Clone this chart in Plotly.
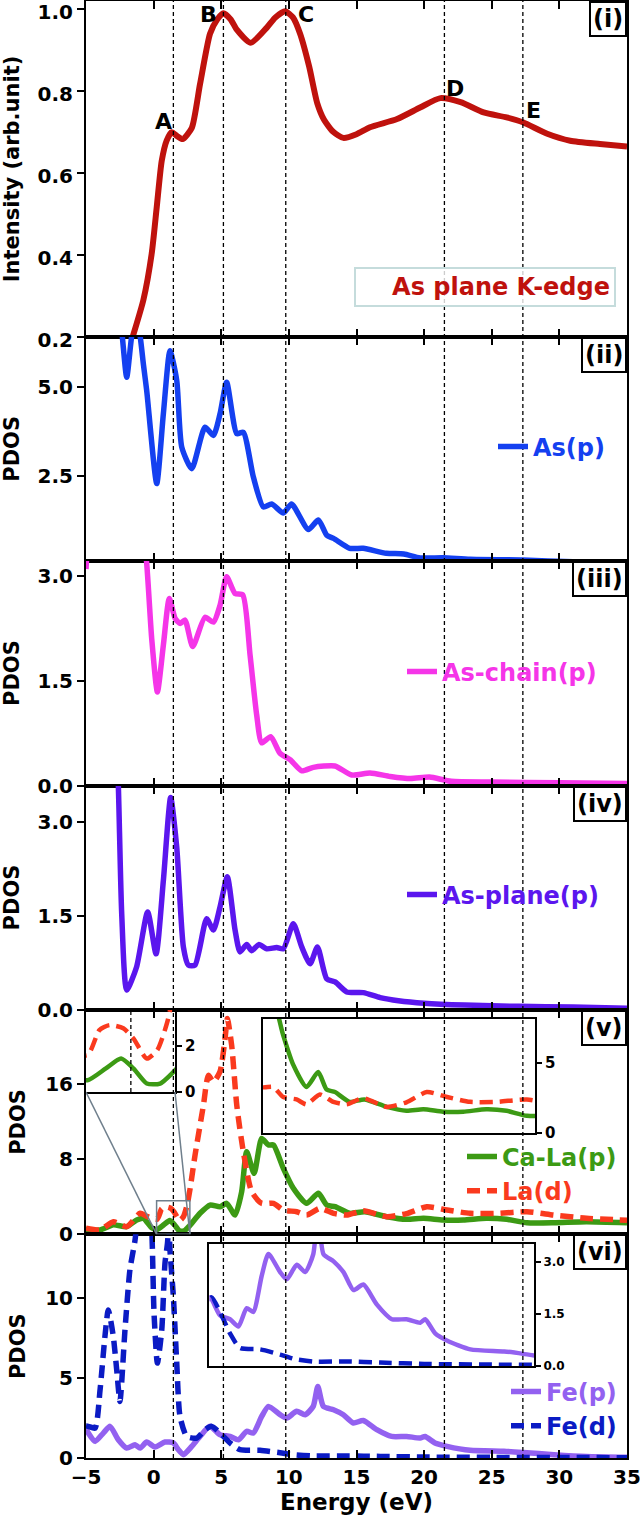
import plotly.graph_objects as go

# ---------------- data ----------------
xanes_e = [-5, -3, -2, -1.55, -0.76, -0.14, 0.23, 0.6, 0.97, 1.34, 1.75, 2.15, 2.82, 3.43, 4.17, 4.7,
           5.16, 5.7, 6.15, 7.18, 8.37, 9.0, 9.72, 10.3, 10.83, 11.5, 12.1, 12.6, 13.3, 14.03, 15.0,
           16.0, 18.0, 19.7, 21.2, 22.7, 24.4, 26.1, 27.3, 29.1, 30.8, 33.0, 35.0]
xanes_i = [0.02, 0.09, 0.15, 0.2, 0.29, 0.404, 0.517, 0.63, 0.68, 0.70, 0.69, 0.683, 0.71, 0.817, 0.94, 0.975,
           0.99, 0.975, 0.95, 0.918, 0.955, 0.98, 0.995, 0.98, 0.94, 0.86, 0.77, 0.73, 0.70, 0.686, 0.695,
           0.712, 0.732, 0.76, 0.783, 0.773, 0.748, 0.736, 0.724, 0.696, 0.679, 0.671, 0.665]

asp_e = [-5, -4, -3, -2.36, -1.99, -1.62, -1.3, -1.0, -0.76, -0.51, 0.23, 0.72, 1.21, 1.71, 2.08, 2.82,
         3.8, 4.42, 4.91, 5.4, 6.15, 6.63, 7.37, 8.11, 8.73, 9.59, 10.2, 11.44, 12.18, 12.8, 13.3, 14.5,
         15.5, 17.2, 18.5, 19.7, 21.4, 23.4, 27.3, 31, 35]
asp_d = [9, 9, 8.5, 6.6, 5.28, 6.45, 7.0, 6.45, 5.66, 4.9, 2.28, 4.25, 6.03, 5.19, 3.31, 2.70,
         3.87, 3.64, 4.25, 5.14, 3.69, 3.73, 2.47, 1.62, 1.70, 1.45, 1.70, 0.98, 1.25, 0.82, 0.73, 0.45,
         0.45, 0.31, 0.29, 0.18, 0.18, 0.14, 0.12, 0.07, 0.05]

asc_e = [-5, -4.5, -3, -1.5, -0.52, -0.14, 0.28, 0.72, 1.16, 1.6, 1.97, 2.32, 2.89, 3.8, 4.42, 4.91,
         5.4, 6.02, 6.59, 7.13, 7.62, 7.99, 8.66, 9.35, 10.09, 10.95, 11.81, 13.4, 14.65, 16.0, 17.5,
         19, 20.4, 22, 25, 30, 35]
asc_d = [3.1, 4.5, 6, 5, 3.2, 2.1, 1.34, 2.01, 2.68, 2.39, 2.32, 2.37, 1.99, 2.41, 2.34, 2.58,
         2.99, 2.75, 2.73, 1.87, 1.01, 0.61, 0.70, 0.46, 0.37, 0.21, 0.26, 0.28, 0.15, 0.18, 0.13,
         0.1, 0.12, 0.06, 0.05, 0.04, 0.03]

asl_e = [-5, -4, -3, -2.61, -2.36, -1.99, -1.26, -0.44, 0.18, 0.72, 1.26, 1.71, 2.2, 2.57, 3.06, 3.92,
         4.42, 4.91, 5.45, 6.02, 6.39, 6.88, 7.25, 7.79, 8.36, 9.1, 9.59, 10.33, 10.95, 11.57, 12.11,
         12.8, 13.42, 14.28, 15.51, 16.75, 18.1, 20, 23, 27, 31, 35]
asl_d = [8, 8, 6, 3.6, 1.53, 0.31, 0.68, 1.56, 0.89, 2.06, 3.39, 2.59, 1.0, 0.71, 0.71, 1.45,
         1.27, 1.64, 2.12, 1.27, 0.92, 1.04, 0.94, 1.04, 0.97, 0.99, 0.97, 1.37, 1.0, 0.73, 1.0,
         0.49, 0.44, 0.28, 0.27, 0.19, 0.14, 0.1, 0.07, 0.05, 0.04, 0.02]

cal_e = [-5, -3.96, -2.98, -1.99, -1.25, -0.76, -0.14, 0.26, 0.77, 1.19, 1.53, 1.9, 2.27, 2.64, 3.43,
         4.17, 4.91, 5.4, 6.02, 6.51, 6.88, 7.43, 7.99, 8.49, 8.86, 9.59, 10.33, 11.31, 12.18, 12.8,
         13.42, 14.5, 15.6, 17.24, 18.7, 19.95, 21.4, 22.9, 24.6, 26.1, 27.6, 29.6, 32, 35]
cal_d = [0.5, 0.46, 1.0, 0.81, 1.52, 1.7, 0.7, 0.51, 1.03, 1.46, 1.03, 0.37, 0.37, 0.88, 2.23,
         3.11, 2.93, 3.29, 2.05, 4.53, 8.78, 6.48, 10.2, 9.49, 9.49, 7.01, 4.89, 3.29, 4.36, 3.11,
         2.93, 2.23, 2.4, 1.87, 1.59, 1.7, 1.52, 1.52, 1.7, 1.59, 1.23, 1.23, 1.34, 1.23]

lad_e = [-5, -3.96, -2.98, -1.99, -1.0, -0.5, 0.26, 0.59, 0.87, 1.25, 1.53, 1.9, 2.19, 2.47, 2.69,
         3.06, 3.68, 4.05, 4.42, 4.91, 5.28, 5.45, 5.77, 6.15, 6.63, 7.25, 7.99, 8.86, 9.59, 10.58,
         11.31, 12.3, 13.3, 14.28, 15.5, 17.24, 18.7, 20.2, 21.7, 23.4, 25.4, 27.6, 29.6, 32, 35]
lad_d = [0.64, 0.46, 1.34, 0.81, 2.23, 1.9, 1.61, 2.7, 2.92, 2.78, 2.34, 1.46, 1.83, 3.07, 4.8,
         8.4, 13.7, 16.9, 16.2, 17.3, 20.8, 22.95, 20.1, 13.7, 8.78, 4.53, 3.29, 3.29, 2.58, 2.4,
         2.05, 2.76, 2.23, 2.05, 2.5, 1.87, 2.2, 2.93, 2.58, 2.23, 2.23, 2.4, 2.05, 1.7, 1.5]

fed_e = [-5, -4.83, -4.33, -3.96, -3.6, -3.35, -2.98, -2.73, -2.49, -2.12, -1.75, -1.38, -1.0, -0.5,
         -0.14, 0.03, 0.28, 0.6, 0.84, 1.02, 1.12, 1.21, 1.46, 1.71, 1.95, 2.45, 3.19, 3.8, 4.3, 4.91,
         5.65, 6.39, 7.87, 9.35, 10.33, 11.8, 14.3, 16.75, 20, 25, 30, 35]
fed_d = [2.0, 1.98, 1.87, 4.27, 7.6, 9.27, 7.6, 5.52, 3.54, 8.0, 11.8, 13.6, 16.5, 18,
         14.3, 9.06, 5.94, 8.0, 12.2, 13.4, 14.5, 13.0, 10.1, 5.94, 2.6, 1.35, 1.25, 1.77, 1.98, 1.56,
         0.94, 0.52, 0.48, 0.33, 0.21, 0.13, 0.13, 0.1, 0.06, 0.04, 0.03, 0.02]

fep_e = [-5, -4.33, -3.72, -3.22, -2.61, -1.99, -1.38, -1.0, -0.51, 0.1, 0.84, 1.46, 1.83, 2.2, 2.82,
         3.43, 4.17, 4.91, 5.65, 6.27, 6.88, 7.37, 7.99, 8.49, 9.35, 9.84, 10.58, 11.2, 11.8, 12.14,
         12.55, 13.3, 14.03, 14.77, 15.5, 16.5, 17.6, 18.7, 19.7, 20.07, 20.8, 21.7, 23.4, 25.9, 27.3,
         29.6, 32, 35]
fep_d = [1.8, 1.04, 1.56, 1.98, 1.14, 0.62, 0.83, 0.62, 1.0, 0.69, 1.0, 0.94, 0.52, 0.21, 0.73,
         1.35, 1.98, 1.46, 1.35, 1.14, 1.67, 1.56, 2.6, 3.23, 2.71, 2.5, 2.92, 2.71, 3.23, 4.48,
         3.23, 3.02, 2.71, 2.19, 2.35, 1.77, 1.35, 1.35, 1.25, 1.35, 0.94, 0.73, 0.48, 0.42, 0.35,
         0.21, 0.1, 0.05]

feature_e = [1.46, 5.16, 9.77, 21.5, 27.3]
feature_labels = ["A", "B", "C", "D", "E"]
label_e = [0.72, 4.05, 11.27, 22.3, 28.1]
label_i = [0.726, 0.988, 0.988, 0.807, 0.752]
panel_tags = ["(i)", "(ii)", "(iii)", "(iv)", "(v)", "(vi)"]
x_ticks = [-5, 0, 5, 10, 15, 20, 25, 30, 35]

# ---------------- styling ----------------
FONT = "DejaVu Sans"
C_XANES = "#bf120d"
C_ASP = "#1440f0"
C_ASC = "#f535e8"
C_ASL = "#5b16ee"
C_CAL = "#3c9a14"
C_LAD = "#fa3a1e"
C_FEP = "#9361f0"
C_FED = "#0b1bc4"

W, H = 640, 1524
ML, MR, MT, MB = 86, 13, 1, 66
PW = W - ML - MR
PH = H - MT - MB


def py2p(py):
    return (H - MB - py) / PH


def px2p(px):
    return (px - ML) / PW


panel_px = [(1, 337), (337, 560.7), (560.7, 785.5), (785.5, 1009.5), (1009.5, 1234.3), (1234.3, 1458)]
yranges = [[0.2, 1.02], [0.1, 6.42], [0, 3.22], [0, 3.58], [0, 23.9], [0, 14.0]]
yticks = [[0.2, 0.4, 0.6, 0.8, 1.0], [2.5, 5.0], [0, 1.5, 3.0], [0, 1.5, 3.0], [0, 8, 16], [0, 5, 10]]
yfmts = [".1f", ".1f", ".1f", ".1f", "d", "d"]
ytitles = ["Intensity (arb.unit)", "PDOS", "PDOS", "PDOS", "PDOS", "PDOS"]

fig = go.Figure()


def add(x, y, color, n, dash=None, width=5.5, name=None, legend=None):
    fig.add_trace(go.Scatter(
        x=x, y=y, mode="lines",
        line=dict(color=color, width=width, dash=dash, shape="spline", smoothing=0.6),
        xaxis="x" if n == 1 else f"x{n}", yaxis="y" if n == 1 else f"y{n}",
        name=name, legend=legend, showlegend=name is not None, hoverinfo="skip"))


DASH = "13px,7px"
add(xanes_e, xanes_i, C_XANES, 1, width=6)
add(asp_e, asp_d, C_ASP, 2, name="As(p)", legend="legend")
add(asc_e, asc_d, C_ASC, 3, name="As-chain(p)", legend="legend2")
add(asl_e, asl_d, C_ASL, 4, name="As-plane(p)", legend="legend3")
add(cal_e, cal_d, C_CAL, 5, name=f'<span style="color:{C_CAL}">Ca-La(p)</span>', legend="legend4")
add(lad_e, lad_d, C_LAD, 5, dash=DASH, name=f'<span style="color:{C_LAD}">La(d)</span>', legend="legend4")
add(fep_e, fep_d, C_FEP, 6, name=f'<span style="color:{C_FEP}">Fe(p)</span>', legend="legend5")
add(fed_e, fed_d, C_FED, 6, dash=DASH, name=f'<span style="color:{C_FED}">Fe(d)</span>', legend="legend5")
# insets
add(cal_e, cal_d, C_CAL, 7, width=4.5)
add(lad_e, lad_d, C_LAD, 7, dash=DASH, width=4.5)
add(cal_e, cal_d, C_CAL, 8, width=4.5)
add(lad_e, lad_d, C_LAD, 8, dash=DASH, width=4.5)
add(fep_e, fep_d, C_FEP, 9, width=4.5)
add(fed_e, fed_d, C_FED, 9, dash=DASH, width=4.5)

layout = dict(
    template="none",
    width=W, height=H, margin=dict(l=ML, r=MR, t=MT, b=MB, autoexpand=False),
    paper_bgcolor="white", plot_bgcolor="rgba(0,0,0,0)",
    font=dict(family=FONT, color="black"),
)

for i in range(6):
    n = i + 1
    xk = "xaxis" if n == 1 else f"xaxis{n}"
    yk = "yaxis" if n == 1 else f"yaxis{n}"
    top, bot = panel_px[i]
    layout[xk] = dict(
        domain=[0, 1], range=[-5, 35], anchor="y" if n == 1 else f"y{n}", automargin=False,
        tickvals=x_ticks, ticks="inside", ticklen=8, tickwidth=2, tickcolor="black",
        showline=True, linecolor="black", linewidth=2, mirror="allticks",
        showgrid=False, zeroline=False, showticklabels=(n == 6), ticklabeloverflow="allow",
        tickfont=dict(family=FONT, size=20, color="black", weight="bold"),
    )
    if n > 1:
        layout[xk]["matches"] = "x"
    if n == 6:
        layout[xk]["title"] = dict(text="Energy (eV)", standoff=6,
                                   font=dict(family=FONT, size=23, color="black", weight="bold"))
    layout[yk] = dict(
        domain=[py2p(bot), py2p(top)], range=yranges[i], anchor="x" if n == 1 else f"x{n}",
        automargin=False, ticklabeloverflow="allow",
        tickvals=yticks[i], tickformat=yfmts[i], ticks="outside", ticklen=7, tickwidth=2,
        tickcolor="black", showline=True, linecolor="black", linewidth=2, mirror=True,
        showgrid=False, zeroline=False,
        tickfont=dict(family=FONT, size=20, color="black", weight="bold"),
        title=dict(text=ytitles[i], standoff=14,
                   font=dict(family=FONT, size=21, color="black", weight="bold")),
    )
layout["yaxis"]["ticklabelshift"] = 3

insets = [
    # n, px box (x0, x1, y0, y1), xrange, yrange, yticks, fmt, fontsize
    (7, (86, 175, 1010, 1092), [0.22, 2.68], [0, 3.58], [0, 2], "d", 15),
    (8, (263, 535, 1019, 1133), [8.1, 28.2], [0, 8.16], [0, 5], "d", 15),
    (9, (209.3, 534, 1244, 1366), [4.12, 28.1], [0, 3.52], [0, 1.5, 3.0], ".1f", 12),
]
for n, (x0, x1, y0, y1), xr, yr, yt, fmt, fs in insets:
    layout[f"xaxis{n}"] = dict(
        domain=[px2p(x0), px2p(x1)], range=xr, anchor=f"y{n}", automargin=False,
        showticklabels=False, ticks="", showline=True, linecolor="black", linewidth=2,
        mirror=True, showgrid=False, zeroline=False)
    layout[f"yaxis{n}"] = dict(
        domain=[py2p(y1), py2p(y0)], range=yr, anchor=f"x{n}", side="right", automargin=False,
        tickvals=yt, tickformat=fmt, ticks="outside", ticklen=5, tickwidth=1.5, tickcolor="black",
        showline=True, linecolor="black", linewidth=2, mirror=True, showgrid=False, zeroline=False,
        ticklabeloverflow="allow",
        tickfont=dict(family=FONT, size=fs, color="black", weight="bold"))


# legends
def leg(px_text, py_mid, color=None):
    return dict(x=px2p(px_text - 40), y=py2p(py_mid), xanchor="left", yanchor="middle",
                xref="paper", yref="paper", bgcolor="rgba(0,0,0,0)", borderwidth=0,
                font=dict(family=FONT, size=24, weight="bold", color=color or "black"),
                tracegroupgap=0, itemclick=False, itemdoubleclick=False)


layout["legend"] = leg(533, 447, C_ASP)
layout["legend2"] = leg(442, 672, C_ASC)
layout["legend3"] = leg(442, 895, C_ASL)
layout["legend4"] = leg(502, 1174)
layout["legend5"] = leg(546, 1409)

fig.update_layout(**layout)

# vertical feature lines through all panels
for e in feature_e:
    fig.add_shape(type="line", xref="x", yref="paper", x0=e, x1=e, y0=0, y1=1,
                  line=dict(color="black", width=1.3, dash="4px,3px"), layer="above")
# dashed line inside the small inset
fig.add_shape(type="line", xref="x7", yref="y7 domain", x0=feature_e[0], x1=feature_e[0], y0=0, y1=1,
              line=dict(color="black", width=1.3, dash="4px,3px"), layer="above")

# zoom rectangle + connectors in panel (v)
ins_x0, ins_x1 = layout["xaxis7"]["range"]
ins_y0, ins_y1 = layout["yaxis7"]["range"]
fig.add_shape(type="rect", xref="x5", yref="y5", x0=ins_x0, x1=ins_x1, y0=ins_y0, y1=ins_y1,
              line=dict(color="#6f7f8c", width=1.5))
d5 = layout["yaxis5"]["domain"]
r5 = layout["yaxis5"]["range"]
ib = layout["yaxis7"]["domain"][0]
yb_data = r5[0] + (ib - d5[0]) / (d5[1] - d5[0]) * (r5[1] - r5[0])
xd = layout["xaxis7"]["domain"]
xl_data = -5 + xd[0] * 40
xr_data = -5 + xd[1] * 40
for xa, xb in [(ins_x0, xl_data), (ins_x1, xr_data)]:
    fig.add_shape(type="line", xref="x5", yref="y5", x0=xa, y0=ins_y0, x1=xb, y1=yb_data,
                  line=dict(color="#6f7f8c", width=1.5))

# panel tags
for i, t in enumerate(panel_tags):
    fig.add_annotation(text=t, xref="paper", yref="paper", x=1, y=py2p(panel_px[i][0]),
                       xanchor="right", yanchor="top", showarrow=False,
                       font=dict(family=FONT, size=24, color="black", weight="bold"),
                       bgcolor="white", bordercolor="black", borderwidth=2, borderpad=2)

# feature letters
for lab, xe, yi in zip(feature_labels, label_e, label_i):
    fig.add_annotation(text=lab, x=xe, y=yi, xref="x", yref="y", showarrow=False,
                       font=dict(family=FONT, size=22, color="black", weight="bold"))

# legend of panel (i)
fig.add_annotation(text="As plane K-edge", xref="paper", yref="paper", x=px2p(616), y=py2p(286.5),
                   xanchor="right", yanchor="middle", showarrow=False, width=250, align="right",
                   font=dict(family=FONT, size=24, color=C_XANES, weight="bold"),
                   bgcolor="rgba(255,255,255,0.8)", bordercolor="#c5dcdc", borderwidth=2, borderpad=4)

fig.write_html("out.html", config={"displayModeBar": False},
               post_script="document.body.style.margin='0px';document.body.style.overflow='hidden';")
